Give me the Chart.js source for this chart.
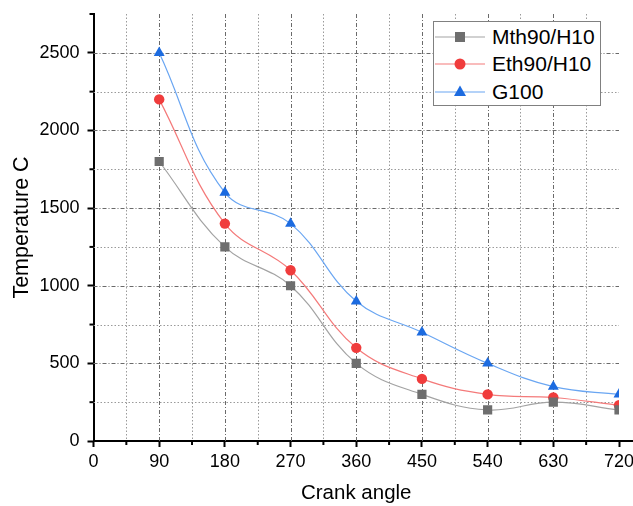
<!DOCTYPE html>
<html><head><meta charset="utf-8">
<script src="https://cdn.jsdelivr.net/npm/chart.js@4"></script>
<style>
html,body{margin:0;padding:0;background:#fff;}
#wrap{position:relative;width:633px;height:506px;}
#legend{position:absolute;left:433px;top:21px;width:168px;height:85px;border:1.5px solid #808080;background:#fff;font-family:Arial,"Liberation Sans",sans-serif;font-size:21px;color:#000;box-sizing:border-box;padding-top:1px}
.row{display:flex;align-items:center;height:27.5px;white-space:nowrap}
.row svg{margin-left:1px;margin-right:7px;flex:none}
</style></head><body>
<div id="wrap"><canvas id="c" width="633" height="506"></canvas><div id="legend"></div></div>
<script>
const crankAngles=[90,180,270,360,450,540,630,720];
const mthValues=[1800,1250,1000,500,300,200,250,200];
const ethValues=[2200,1400,1100,600,400,300,280,230];
const g100Values=[2500,1600,1400,900,700,500,350,300];
const seriesNames=['Mth90/H10','Eth90/H10','G100'];
const xAxisTitle='Crank angle';
const yAxisTitle='Temperature C';

const styles=[
 {line:'#a3a3a3',mark:'#6e6e6e',shape:'rect',r:6.5},
 {line:'#f47a7a',mark:'#f03c3c',shape:'circle',r:5.2},
 {line:'#6aa6f2',mark:'#1c6be0',shape:'triangle',r:6.3}
];
const seriesValues=[mthValues,ethValues,g100Values];
const datasets=seriesValues.map((vals,i)=>({
 label:seriesNames[i],
 data:crankAngles.map((a,j)=>({x:a,y:vals[j]})),
 borderColor:styles[i].line,borderWidth:1.2,
 backgroundColor:styles[i].mark,pointBackgroundColor:styles[i].mark,pointBorderColor:styles[i].mark,
 pointBorderWidth:0,pointStyle:styles[i].shape,pointRadius:styles[i].r,pointHoverRadius:styles[i].r,
 tension:0.4,fill:false
}));

const font='Arial, "Liberation Sans", sans-serif';
const gridPlugin={
 id:'gridPlugin',
 beforeDatasetsDraw(chart){
  const {ctx,chartArea:a,scales:{x,y}}=chart;
  ctx.save();ctx.lineWidth=1;
  x.ticks.forEach(t=>{
   if(t.value<=x.min||t.value>=x.max)return;
   const major=t.value%90===0;
   const px=Math.round(x.getPixelForValue(t.value))+0.5;
   ctx.setLineDash(major?[4,2,1,2]:[1.5,2]);
   ctx.strokeStyle=major?'#6a6a6a':'#9a9a9a';
   ctx.beginPath();ctx.moveTo(px,a.top);ctx.lineTo(px,a.bottom);ctx.stroke();
  });
  y.ticks.forEach(t=>{
   if(t.value<=y.min||t.value>=y.max)return;
   const major=t.value%500===0;
   const py=Math.round(y.getPixelForValue(t.value))+0.5;
   ctx.setLineDash(major?[4,2,1,2]:[1.5,2]);
   ctx.strokeStyle=major?'#6a6a6a':'#9a9a9a';
   ctx.beginPath();ctx.moveTo(a.left,py);ctx.lineTo(a.right,py);ctx.stroke();
  });
  ctx.restore();
 },
 afterDraw(chart){
  const {ctx,chartArea:a,scales:{x,y}}=chart;
  ctx.save();ctx.strokeStyle='#000';ctx.lineWidth=2;ctx.setLineDash([]);
  x.ticks.forEach(t=>{
   if(t.value%90===0)return;
   const px=x.getPixelForValue(t.value);
   ctx.beginPath();ctx.moveTo(px,a.bottom);ctx.lineTo(px,a.bottom+4);ctx.stroke();
  });
  y.ticks.forEach(t=>{
   if(t.value%500===0)return;
   const py=y.getPixelForValue(t.value);
   ctx.beginPath();ctx.moveTo(a.left,py);ctx.lineTo(a.left-4,py);ctx.stroke();
  });
  // axis line extension beyond last tick
  ctx.beginPath();ctx.moveTo(a.right-1,a.bottom);ctx.lineTo(chart.width,a.bottom);ctx.stroke();
  ctx.restore();
 }
};

new Chart(document.getElementById('c'),{
 type:'line',
 data:{datasets},
 plugins:[gridPlugin],
 options:{
  responsive:false,animation:false,
  layout:{padding:{top:14,right:14,left:0,bottom:0}},
  plugins:{legend:{display:false},tooltip:{enabled:false}},
  scales:{
   x:{type:'linear',min:0,max:720,
    afterFit(s){s.height=65;s.paddingLeft=0;s.paddingRight=0;},
    border:{color:'#000',width:2},
    grid:{drawOnChartArea:false,drawTicks:true,tickLength:6,tickWidth:2,
      tickColor:c=>(c.tick&&c.tick.value%90===0)?'#000':'rgba(0,0,0,0)'},
    ticks:{stepSize:45,autoSkip:false,maxRotation:0,includeBounds:false,padding:4,color:'#000',font:{family:font,size:18},
      callback:v=>v%90===0?String(v):''},
    title:{display:true,text:xAxisTitle,color:'#000',font:{family:font,size:20.5},padding:{top:5,bottom:0}}
   },
   y:{type:'linear',min:0,max:2750,
    afterFit(s){s.width=93.5;s.paddingTop=0;s.paddingBottom=0;},
    border:{color:'#000',width:2},
    grid:{drawOnChartArea:false,drawTicks:true,tickLength:6,tickWidth:2,
      tickColor:c=>(c.tick&&c.tick.value%500===0)?'#000':'rgba(0,0,0,0)'},
    ticks:{stepSize:250,autoSkip:false,includeBounds:false,padding:8,color:'#000',font:{family:font,size:18},
      callback:v=>v%500===0?String(v):''},
    title:{display:true,text:yAxisTitle,color:'#000',font:{family:font,size:21.5},padding:{top:9,bottom:4}}
   }
  }
 }
});

// HTML legend
const legend=document.getElementById('legend');
seriesNames.forEach((name,i)=>{
 const st=styles[i];
 let mk='';
 if(st.shape==='rect')mk='<rect x="20" y="5" width="10" height="10" fill="'+st.mark+'"/>';
 else if(st.shape==='circle')mk='<circle cx="25" cy="10" r="5.5" fill="'+st.mark+'"/>';
 else mk='<polygon points="25,3.5 31,14 19,14" fill="'+st.mark+'"/>';
 const row=document.createElement('div');row.className='row';
 row.innerHTML='<svg width="50" height="20"><line x1="0" y1="10" x2="50" y2="10" stroke="'+st.line+'" stroke-width="1.2"/>'+mk+'</svg><span>'+name+'</span>';
 legend.appendChild(row);
});
</script>
</body></html>
